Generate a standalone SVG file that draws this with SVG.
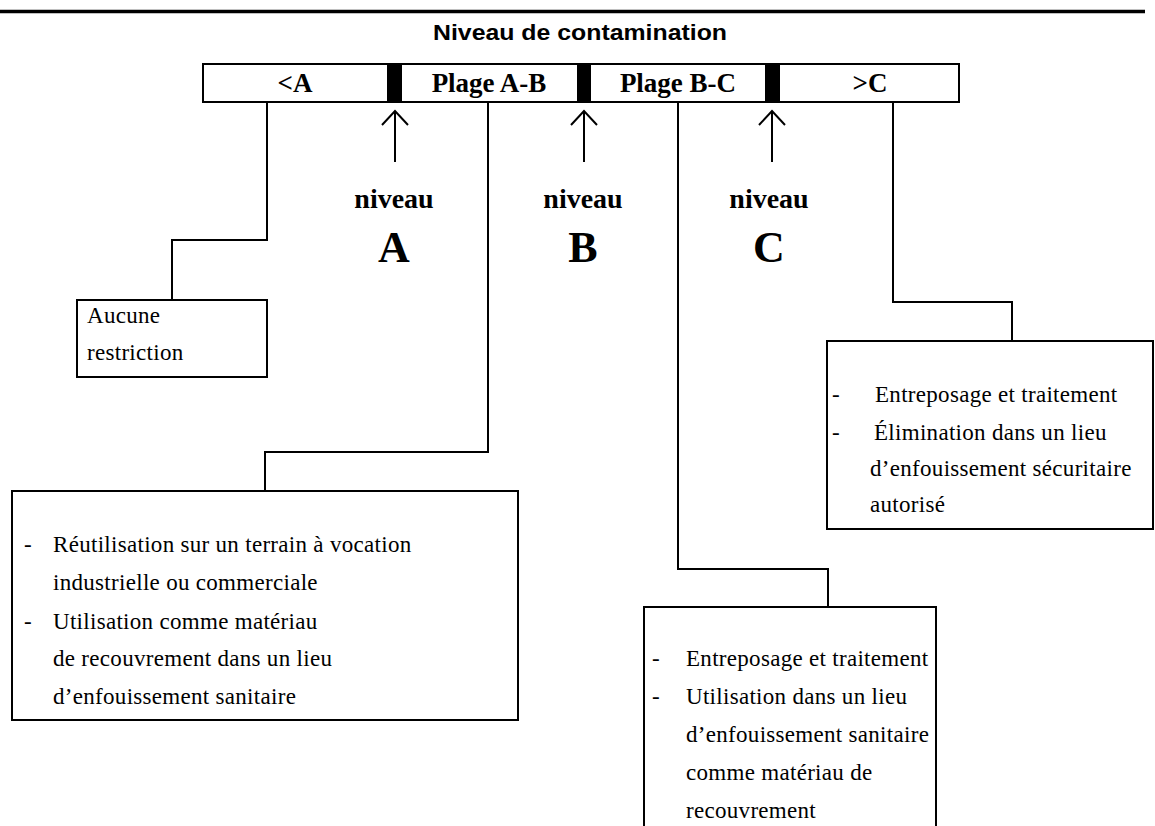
<svg xmlns="http://www.w3.org/2000/svg" width="1155" height="826" viewBox="0 0 1155 826">
<style>
.box{fill:#fff;stroke:#000;stroke-width:2}
.conn{fill:none;stroke:#000;stroke-width:2}
.t{font-family:"Liberation Serif","Times New Roman",serif;font-size:23px;letter-spacing:0.3px;fill:#000}
.bt{font-family:"Liberation Serif","Times New Roman",serif;font-weight:bold;font-size:27px;text-anchor:middle;fill:#000}
.niv{font-family:"Liberation Serif","Times New Roman",serif;font-weight:bold;font-size:28px;text-anchor:middle;fill:#000}
.big{font-family:"Liberation Serif","Times New Roman",serif;font-weight:bold;font-size:44px;text-anchor:middle;fill:#000}
.title{font-family:"Liberation Sans",Arial,sans-serif;font-weight:bold;font-size:22px;text-anchor:middle;fill:#000}
</style>
<rect x="0" y="0" width="1155" height="826" fill="#fff"/>
<line x1="0" y1="11.5" x2="1145" y2="11.5" stroke="#000" stroke-width="3.5"/>
<text class="title" x="580" y="40" textLength="294" lengthAdjust="spacingAndGlyphs">Niveau de contamination</text>

<g id="scale-bar">
<rect class="box" x="203" y="64" width="756" height="38"/>
<rect x="387" y="64" width="15" height="38" fill="#000"/>
<rect x="577" y="64" width="14" height="38" fill="#000"/>
<rect x="765" y="64" width="15" height="38" fill="#000"/>
<text class="bt" x="295" y="92">&lt;A</text>
<text class="bt" x="489" y="92">Plage A-B</text>
<text class="bt" x="678" y="92">Plage B-C</text>
<text class="bt" x="870" y="92">&gt;C</text>
</g>

<g id="level-A">
<path class="conn" d="M395 162 V111 M382 125 L395 111 L408 125"/>
<text class="niv" x="394" y="208">niveau</text>
<text class="big" x="394" y="262">A</text>
</g>
<g id="level-B">
<path class="conn" d="M584 162 V111 M571 125 L584 111 L597 125"/>
<text class="niv" x="583" y="208">niveau</text>
<text class="big" x="583" y="262">B</text>
</g>
<g id="level-C">
<path class="conn" d="M772 162 V111 M759 125 L772 111 L785 125"/>
<text class="niv" x="769" y="208">niveau</text>
<text class="big" x="769" y="262">C</text>
</g>

<g id="connectors">
<path class="conn" d="M267 102 V240 H172 V300"/>
<path class="conn" d="M488 102 V452 H265 V491"/>
<path class="conn" d="M678 102 V569 H828 V607"/>
<path class="conn" d="M893 102 V302 H1012 V341"/>
</g>

<g id="box-no-restriction">
<rect class="box" x="77" y="300" width="190" height="77"/>
<text class="t" x="87" y="323">Aucune</text>
<text class="t" x="87" y="360">restriction</text>
</g>

<g id="box-A-B">
<rect class="box" x="12" y="491" width="506" height="229"/>
<text class="t" x="24" y="552">-</text>
<text class="t" x="53" y="552">Réutilisation sur un terrain à vocation</text>
<text class="t" x="53" y="590">industrielle ou commerciale</text>
<text class="t" x="24" y="629">-</text>
<text class="t" x="53" y="629">Utilisation comme matériau</text>
<text class="t" x="53" y="666">de recouvrement dans un lieu</text>
<text class="t" x="53" y="704">d’enfouissement sanitaire</text>
</g>

<g id="box-B-C">
<rect class="box" x="644" y="607" width="292" height="230"/>
<text class="t" x="652" y="666">-</text>
<text class="t" x="686" y="666">Entreposage et traitement</text>
<text class="t" x="652" y="704">-</text>
<text class="t" x="686" y="704">Utilisation dans un lieu</text>
<text class="t" x="686" y="742">d’enfouissement sanitaire</text>
<text class="t" x="686" y="780">comme matériau de</text>
<text class="t" x="686" y="818">recouvrement</text>
</g>

<g id="box-C">
<rect class="box" x="827" y="341" width="326" height="188"/>
<text class="t" x="832" y="402">-</text>
<text class="t" x="875" y="402">Entreposage et traitement</text>
<text class="t" x="832" y="440">-</text>
<text class="t" x="874" y="440">Élimination dans un lieu</text>
<text class="t" x="870" y="476">d’enfouissement sécuritaire</text>
<text class="t" x="870" y="512">autorisé</text>
</g>
</svg>
